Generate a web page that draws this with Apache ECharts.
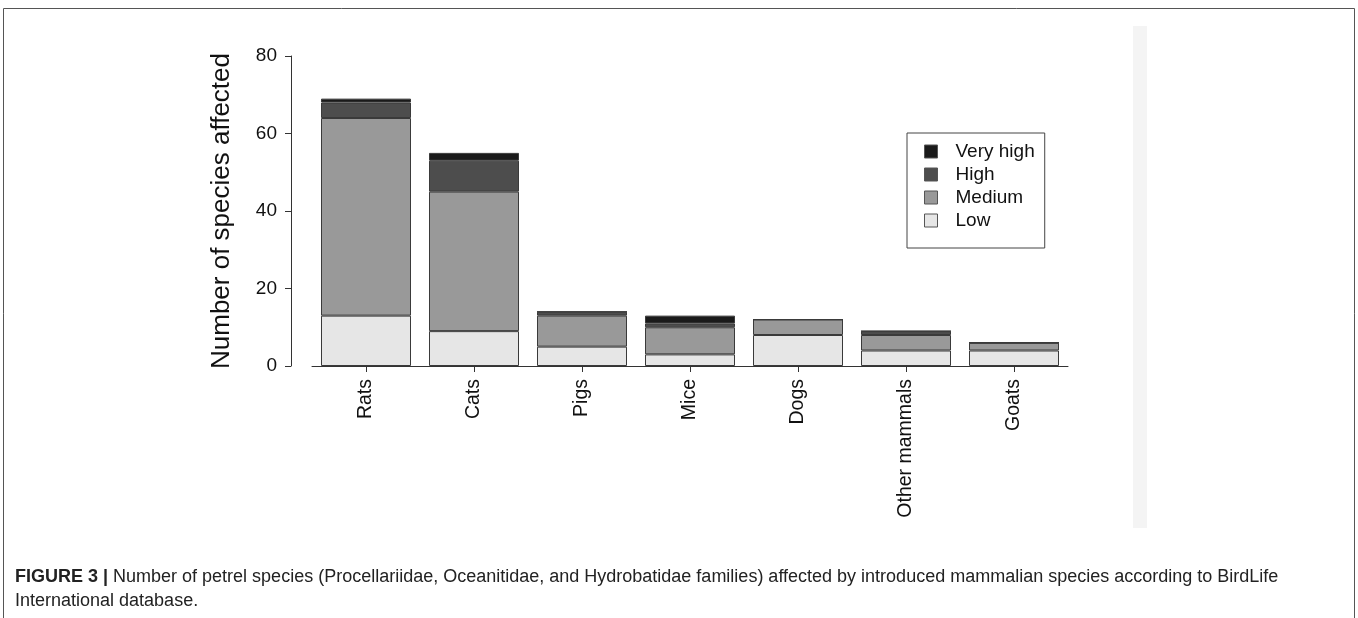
<!DOCTYPE html>
<html>
<head>
<meta charset="utf-8">
<script src="https://cdn.jsdelivr.net/npm/echarts@6/dist/echarts.min.js"></script>
<style>html,body{margin:0;padding:0;background:#fff}#c{width:1358px;height:618px}</style>
</head>
<body>
<div id="c"></div>
<script>
var categories = ['Rats', 'Cats', 'Pigs', 'Mice', 'Dogs', 'Other mammals', 'Goats'];
var lowValues = [13, 9, 5, 3, 8, 4, 4];
var mediumValues = [51, 36, 8, 7, 4, 4, 2];
var highValues = [4, 8, 1, 1, 0, 1, 0];
var veryHighValues = [1, 2, 0, 2, 0, 0, 0];
var yTicks = [0, 20, 40, 60, 80];
var levelNames = ['Very high', 'High', 'Medium', 'Low'];
var levelColors = { 'Very high': '#1a1a1a', 'High': '#4d4d4d', 'Medium': '#999999', 'Low': '#e6e6e6' };

var font = '"Liberation Sans", Arial, sans-serif';
function mk(name, data) {
  return {
    name: name, type: 'bar', stack: 'total', data: data, barWidth: 90,
    itemStyle: { color: levelColors[name], borderColor: '#3a3a3a', borderWidth: 1 },
    emphasis: { disabled: true }
  };
}
var chart = echarts.init(document.getElementById('c'), null, { renderer: 'canvas' });
chart.setOption({
  animation: false,
  backgroundColor: '#fff',
  grid: { left: 312, right: 290, top: 56, bottom: 252, containLabel: false },
  legend: {
    orient: 'vertical', left: 907, top: 133,
    data: levelNames,
    itemWidth: 13, itemHeight: 13, itemGap: 4,
    padding: [9, 10, 18, 17],
    borderColor: '#444', borderWidth: 1,
    icon: 'rect',
    itemStyle: { borderColor: '#555', borderWidth: 1 },
    textStyle: { fontFamily: font, fontSize: 19, color: '#111', padding: [0, 0, 0, 13] }
  },
  xAxis: {
    type: 'category', data: categories,
    axisLine: { show: true, lineStyle: { color: '#333', width: 1 } },
    axisTick: { show: true, alignWithLabel: true, length: 6, lineStyle: { color: '#333' } },
    axisLabel: { rotate: 90, margin: 13, fontFamily: font, fontSize: 19.5, color: '#111' }
  },
  yAxis: {
    type: 'value', min: yTicks[0], max: yTicks[yTicks.length - 1], interval: yTicks[1] - yTicks[0],
    offset: 21,
    name: 'Number of species affected', nameLocation: 'middle', nameRotate: 90, nameGap: 56,
    nameTextStyle: { fontFamily: font, fontSize: 26, color: '#111' },
    axisLine: { show: true, lineStyle: { color: '#333', width: 1 } },
    axisTick: { show: true, length: 6, lineStyle: { color: '#333' } },
    axisLabel: { margin: 14, fontFamily: font, fontSize: 19, color: '#111' },
    splitLine: { show: false }
  },
  series: [mk('Low', lowValues), mk('Medium', mediumValues), mk('High', highValues), mk('Very high', veryHighValues)],
  graphic: [
    { type: 'rect', shape: { x: 3.5, y: 8.5, width: 1351, height: 640 }, style: { fill: 'none', stroke: '#555', lineWidth: 1 }, silent: true, z: -10 },
    { type: 'rect', shape: { x: 1133, y: 26, width: 14, height: 502 }, style: { fill: '#f4f4f4' }, silent: true, z: -10 },
    { type: 'text', left: 15, top: 568, style: {
        text: '{b|FIGURE 3 |} Number of petrel species (Procellariidae, Oceanitidae, and Hydrobatidae families) affected by introduced mammalian species according to BirdLife',
        rich: { b: { fontWeight: 'bold', fontFamily: font, fontSize: 18, fill: '#222' } },
        font: '18px ' + font, fill: '#222' } },
    { type: 'text', left: 15, top: 592, style: { text: 'International database.', font: '18px ' + font, fill: '#222' } }
  ]
});
</script>
</body>
</html>
